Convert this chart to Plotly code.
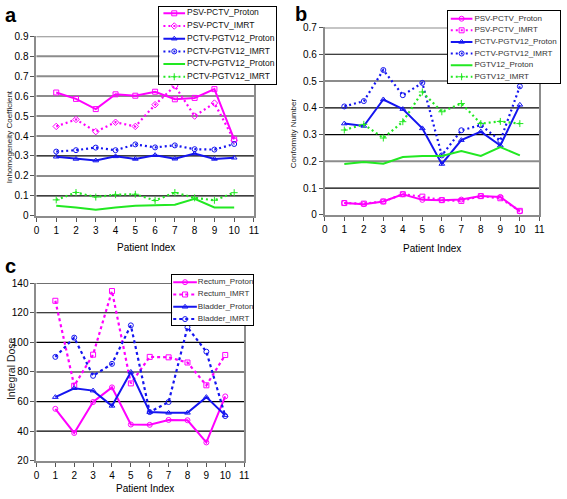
import plotly.graph_objects as go

W, H = 567, 499
FONT = "Liberation Sans, Arial, sans-serif"

# ---------------- data ----------------
patients = [1, 2, 3, 4, 5, 6, 7, 8, 9, 10]

# Panel a: Inhomogeneity Coefficient
a_names = ["PSV-PCTV_Proton", "PSV-PCTV_IMRT", "PCTV-PGTV12_Proton",
           "PCTV-PGTV12_IMRT", "PCTV-PGTV12_Proton", "PCTV-PGTV12_IMRT"]
a_psv_proton = [0.618, 0.586, 0.535, 0.609, 0.602, 0.622, 0.584, 0.591, 0.635, 0.383]
a_psv_imrt = [0.448, 0.483, 0.422, 0.469, 0.448, 0.557, 0.651, 0.500, 0.565, 0.379]
a_pctv_proton = [0.296, 0.285, 0.277, 0.298, 0.285, 0.304, 0.286, 0.312, 0.285, 0.291]
a_pctv_imrt = [0.322, 0.329, 0.342, 0.329, 0.358, 0.343, 0.353, 0.334, 0.332, 0.360]
a_pgtv_proton = [0.050, 0.042, 0.030, 0.042, 0.050, 0.052, 0.056, 0.085, 0.042, 0.042]
a_pgtv_imrt = [0.080, 0.117, 0.094, 0.106, 0.108, 0.077, 0.117, 0.090, 0.078, 0.116]

# Panel b: Conformity Number
b_names = ["PSV-PCTV_Proton", "PSV-PCTV_IMRT", "PCTV-PGTV12_Proton",
           "PCTV-PGTV12_IMRT", "PGTV12_Proton", "PGTV12_IMRT"]
b_psv_proton = [0.044, 0.040, 0.050, 0.077, 0.056, 0.055, 0.057, 0.070, 0.067, 0.013]
b_psv_imrt = [0.044, 0.042, 0.050, 0.077, 0.068, 0.055, 0.052, 0.070, 0.062, 0.015]
b_pctv_proton = [0.341, 0.332, 0.431, 0.395, 0.323, 0.190, 0.279, 0.311, 0.259, 0.411]
b_pctv_imrt = [0.405, 0.425, 0.541, 0.447, 0.493, 0.222, 0.316, 0.335, 0.277, 0.480]
b_pgtv_proton = [0.190, 0.197, 0.191, 0.216, 0.220, 0.220, 0.238, 0.220, 0.253, 0.222]
b_pgtv_imrt = [0.317, 0.338, 0.287, 0.348, 0.459, 0.385, 0.416, 0.341, 0.349, 0.341]

# Panel c: Integral Dose
c_names = ["Rectum_Proton", "Rectum_IMRT", "Bladder_Proton", "Bladder_IMRT"]
c_rectum_proton = [55.1, 38.8, 59.7, 69.6, 44.5, 44.3, 47.6, 47.4, 32.4, 63.5]
c_rectum_imrt = [128.1, 70.7, 91.7, 134.7, 72.3, 90.2, 89.9, 86.4, 71.0, 91.5]
c_bladder_proton = [63.0, 69.0, 67.4, 57.1, 80.0, 52.9, 52.4, 52.4, 63.0, 50.7]
c_bladder_imrt = [90.2, 103.2, 77.4, 85.5, 111.5, 52.9, 59.7, 110.2, 93.7, 50.2]

x_ticks = list(range(0, 12))
a_yticks = [0.1, 0.2, 0.3, 0.4, 0.5, 0.6, 0.7, 0.8, 0.9]
b_yticks = [0.1, 0.2, 0.3, 0.4, 0.5, 0.6, 0.7]
c_yticks = [40, 60, 80, 100, 120, 140]

# ---------------- styles ----------------
MAG, BLUE, GREEN = "#FF00FF", "#1515F0", "#22E822"
DOT = "2px,3px"
DASH = "3px,3px"
GRAY, BLACK = "#8C8C8C", "#000000"

a_styles = [(MAG, "solid", "square-open"), (MAG, DOT, "diamond-open"),
            (BLUE, "solid", "triangle-up-open"), (BLUE, DOT, "circle-open"),
            (GREEN, "solid", None), (GREEN, DOT, "cross-thin-open")]
b_styles = [(MAG, "solid", "circle-open"), (MAG, DOT, "square-open"),
            (BLUE, "solid", "triangle-up-open"), (BLUE, DOT, "circle-open"),
            (GREEN, "solid", None), (GREEN, DOT, "cross-thin-open")]
c_styles = [(MAG, "solid", "circle-open"), (MAG, DASH, "square-open"),
            (BLUE, "solid", "triangle-up-open"), (BLUE, DASH, "circle-open")]

a_grid = [BLACK, GRAY, BLACK, GRAY, GRAY, GRAY, GRAY, GRAY, GRAY]
b_grid = [BLACK, GRAY, BLACK, BLACK, GRAY, BLACK, GRAY]
c_grid = [BLACK, BLACK, BLACK, BLACK, BLACK, BLACK]


def px_dom_x(x0, x1):
    return [x0 / W, x1 / W]


def px_dom_y(y0, y1):  # y0 top pixel, y1 bottom pixel
    return [1 - y1 / H, 1 - y0 / H]


fig = go.Figure()


def add_series(xa, ya, names, series, styles):
    for name, vals, (col, dash, sym) in zip(names, series, styles):
        mode = "lines+markers" if sym else "lines"
        marker = dict(symbol=sym, size=5, color=col, line=dict(color=col, width=1)) if sym else None
        fig.add_trace(go.Scatter(x=patients, y=vals, name=name, mode=mode,
                                 line=dict(color=col, width=2 if dash == "solid" else 2.2, dash=dash),
                                 marker=marker, xaxis=xa, yaxis=ya, showlegend=False,
                                 cliponaxis=False))


add_series("x", "y", a_names,
           [a_psv_proton, a_psv_imrt, a_pctv_proton, a_pctv_imrt, a_pgtv_proton, a_pgtv_imrt], a_styles)
add_series("x2", "y2", b_names,
           [b_psv_proton, b_psv_imrt, b_pctv_proton, b_pctv_imrt, b_pgtv_proton, b_pgtv_imrt], b_styles)
add_series("x3", "y3", c_names,
           [c_rectum_proton, c_rectum_imrt, c_bladder_proton, c_bladder_imrt], c_styles)

# gridlines as shapes
shapes = []
for xref, yref, ticks, cols in [("x domain", "y", a_yticks, a_grid),
                                ("x2 domain", "y2", b_yticks, b_grid),
                                ("x3 domain", "y3", c_yticks, c_grid)]:
    for t, c in zip(ticks, cols):
        shapes.append(dict(type="line", xref=xref, yref=yref, x0=0, x1=1, y0=t, y1=t,
                           line=dict(color=c, width=2 if c == GRAY else 1.2), layer="below"))


# ---------------- manual legends ----------------
def add_legend(axn, box, names, styles, first, step, sx0, sx1, tx, fsize, tcol):
    x0, y0, x1, y1 = box
    bw, bh = x1 - x0, y1 - y0
    xa, ya = "x%d" % axn, "y%d" % axn
    fig.add_trace(go.Scatter(x=[0, bw, bw, 0, 0], y=[0, 0, bh, bh, 0], fill="toself",
                             fillcolor="white", line=dict(width=0), mode="lines",
                             xaxis=xa, yaxis=ya, showlegend=False, hoverinfo="skip"))
    for i, (name, (col, dash, sym)) in enumerate(zip(names, styles)):
        yy = first + i * step
        fig.add_trace(go.Scatter(x=[sx0, sx1], y=[yy, yy], mode="lines",
                                 line=dict(color=col, width=2, dash=dash),
                                 xaxis=xa, yaxis=ya, showlegend=False, hoverinfo="skip"))
        if sym:
            fig.add_trace(go.Scatter(x=[(sx0 + sx1) / 2], y=[yy], mode="markers",
                                     marker=dict(symbol=sym, size=5, color=col,
                                                 line=dict(color=col, width=1)),
                                     xaxis=xa, yaxis=ya, showlegend=False, hoverinfo="skip"))
        fig.add_trace(go.Scatter(x=[tx], y=[yy], mode="text", text=[name],
                                 textposition="middle right",
                                 textfont=dict(family=FONT, size=fsize, color=tcol),
                                 xaxis=xa, yaxis=ya, showlegend=False, hoverinfo="skip",
                                 cliponaxis=False))
    ax = dict(domain=px_dom_x(x0, x1), showgrid=False, zeroline=False, showticklabels=False,
              ticks="", showline=True, mirror=True, linecolor="black", linewidth=1,
              fixedrange=True)
    fig.layout["xaxis%d" % axn] = dict(ax, range=[0, bw], anchor=ya)
    fig.layout["yaxis%d" % axn] = dict(ax, domain=px_dom_y(y0, y1), range=[bh, 0], anchor=xa)


axis_common = dict(showgrid=False, zeroline=False, showline=True, linecolor=GRAY, linewidth=2,
                   ticks="outside", ticklen=4, tickcolor="#555555", tickwidth=1,
                   tickfont=dict(family=FONT, size=10, color="black"), fixedrange=True)

fig.update_layout(
    width=W, height=H, autosize=False,
    margin=dict(l=0, r=0, t=0, b=0),
    paper_bgcolor="white", plot_bgcolor="white",
    showlegend=False,
    font=dict(family=FONT, color="black"),
    xaxis=dict(axis_common, domain=px_dom_x(34, 255), range=[0, 11], tickvals=x_ticks, anchor="y"),
    yaxis=dict(axis_common, domain=px_dom_y(31, 215), range=[0, 0.9], dtick=0.1, tick0=0,
               mirror=True, anchor="x"),
    xaxis2=dict(axis_common, domain=px_dom_x(327, 545), range=[0, 11], tickvals=x_ticks, anchor="y2"),
    yaxis2=dict(axis_common, domain=px_dom_y(22, 214), range=[0, 0.7], dtick=0.1, tick0=0,
                mirror=True, anchor="x2"),
    xaxis3=dict(axis_common, domain=px_dom_x(34, 245), range=[0, 11], tickvals=x_ticks, anchor="y3"),
    yaxis3=dict(axis_common, domain=px_dom_y(284, 466), range=[20, 140], dtick=20, tick0=20,
                mirror=True, anchor="x3"),
    shapes=shapes,
)

add_legend(4, (159, 1, 277, 80), a_names, a_styles, 6.5, 13.0, 4, 26, 28, 8.5, "#111111")
add_legend(5, (452, 5, 566, 79), b_names, b_styles, 8, 11.9, 3, 25, 27, 8, "#333333")
add_legend(6, (172, 276, 254, 327), c_names, c_styles, 7, 12.6, 1, 25, 26, 8, "#333333")

# ---------------- text annotations ----------------
def ann(text, xp, yp, size, bold=False, angle=0, xanchor="center", yanchor="middle", color="black"):
    fig.add_annotation(text="<b>%s</b>" % text if bold else text, x=xp / W, y=1 - yp / H,
                       xref="paper", yref="paper", showarrow=False, textangle=angle,
                       xanchor=xanchor, yanchor=yanchor,
                       font=dict(family=FONT, size=size, color=color))


ann("a", 0, 9, 20, bold=True, xanchor="left")
ann("b", 295, 8, 20, bold=True, xanchor="left")
ann("c", 0, 266, 20, bold=True, xanchor="left")

ann("Patient Index", 145, 247, 10)
ann("Patient Index", 436, 248, 10)
ann("Patient Index", 144, 494, 10)

ann("Inhomogeneity Coefficient", 0, 134, 8, angle=-90, xanchor="left", color="#222222")
ann("Conformity Number", 296, 130, 8, angle=-90, color="#222222")
ann("Integral Dose", 0, 372, 10.5, angle=-90, xanchor="left", color="#222222")

fig.write_html("out.html", config={"displayModeBar": False},
               post_script="document.body.style.margin='0';document.body.style.padding='0';"
                           "document.documentElement.style.overflow='hidden';")
